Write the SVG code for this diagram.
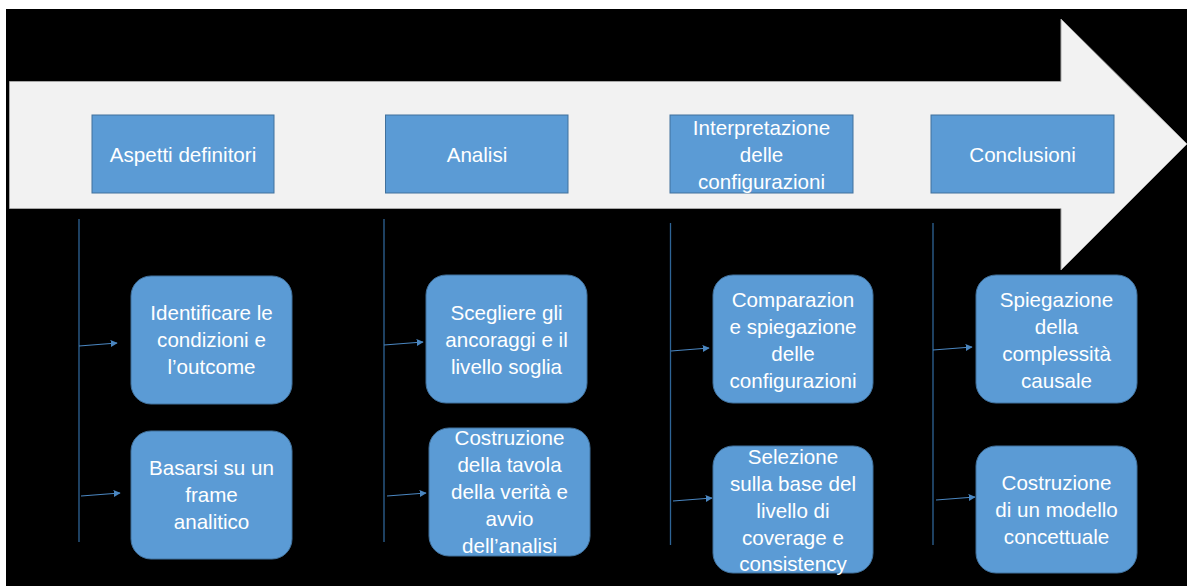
<svg xmlns="http://www.w3.org/2000/svg" width="1187" height="586" viewBox="0 0 1187 586">
<style>
.hdr{fill:#5B9BD5;stroke:#41719C;stroke-width:1}
.box{fill:#5B9BD5;stroke:#41719C;stroke-width:1}
.t{font-family:"Liberation Sans",Arial,sans-serif;font-size:20.6px;fill:#FFFFFF;text-anchor:middle}
.vl{stroke:#2E6496;stroke-width:1.3;fill:none}
.ar{stroke:#4A86C0;stroke-width:1.2;fill:none;marker-end:url(#ah)}
</style>
<defs>
<marker id="ah" viewBox="0 0 10 10" refX="9" refY="5" markerWidth="7" markerHeight="7" markerUnits="userSpaceOnUse" orient="auto">
<path d="M0,0 L10,5 L0,10 z" fill="#4A86C0"/>
</marker>
</defs>
<rect x="0" y="0" width="1187" height="586" fill="#FFFFFF"/>
<rect x="6" y="9" width="1181" height="577" fill="#000000"/>
<g id="big-arrow">
<path d="M9.5,81.5 L1061,81.5 L1061,19 L1187,144 L1061,270 L1061,208.5 L9.5,208.5 Z" fill="#F2F2F2" stroke="#A6A6A6" stroke-width="1"/>
</g>
<g id="h1"><rect class="hdr" x="92" y="115" width="182" height="78"/><text class="t" x="183" y="162">Aspetti definitori</text></g>
<g id="h2"><rect class="hdr" x="385.5" y="115" width="182.5" height="78"/><text class="t" x="477" y="162">Analisi</text></g>
<g id="h3"><rect class="hdr" x="670" y="115" width="183" height="78"/><text class="t" x="761.5" y="135">Interpretazione</text><text class="t" x="761.5" y="162">delle</text><text class="t" x="761.5" y="189">configurazioni</text></g>
<g id="h4"><rect class="hdr" x="931" y="115" width="183" height="78"/><text class="t" x="1022.5" y="162">Conclusioni</text></g>

<g id="connectors">
<line class="vl" x1="79" y1="219" x2="79" y2="542"/>
<line class="vl" x1="384" y1="219" x2="384" y2="542"/>
<line class="vl" x1="670.5" y1="223" x2="670.5" y2="545"/>
<line class="vl" x1="933" y1="223" x2="933" y2="545"/>
<line class="ar" x1="79" y1="346" x2="117" y2="343"/>
<line class="ar" x1="81" y1="496" x2="120" y2="493"/>
<line class="ar" x1="384" y1="345" x2="423" y2="342"/>
<line class="ar" x1="387" y1="496" x2="426" y2="493"/>
<line class="ar" x1="671" y1="351" x2="709" y2="348"/>
<line class="ar" x1="673" y1="501" x2="712" y2="498"/>
<line class="ar" x1="933" y1="350" x2="972" y2="347"/>
<line class="ar" x1="936" y1="500" x2="975" y2="497"/>
</g>

<g id="n1a"><rect class="box" x="131" y="276" width="161" height="128" rx="20"/><text class="t" x="211.5" y="320">Identificare le</text><text class="t" x="211.5" y="347">condizioni e</text><text class="t" x="211.5" y="374">l’outcome</text></g>
<g id="n1b"><rect class="box" x="131" y="431" width="161" height="128" rx="20"/><text class="t" x="211.5" y="475">Basarsi su un</text><text class="t" x="211.5" y="502">frame</text><text class="t" x="211.5" y="529">analitico</text></g>

<g id="n2a"><rect class="box" x="426" y="275" width="161" height="128" rx="20"/><text class="t" x="506.5" y="320">Scegliere gli</text><text class="t" x="506.5" y="347">ancoraggi e il</text><text class="t" x="506.5" y="374">livello soglia</text></g>
<g id="n2b"><rect class="box" x="429" y="428" width="161" height="128" rx="20"/><text class="t" x="509.5" y="445">Costruzione</text><text class="t" x="509.5" y="472">della tavola</text><text class="t" x="509.5" y="499">della verità e</text><text class="t" x="509.5" y="526">avvio</text><text class="t" x="509.5" y="553">dell’analisi</text></g>

<g id="n3a"><rect class="box" x="713" y="275" width="160" height="128" rx="20"/><text class="t" x="793" y="307">Comparazion</text><text class="t" x="793" y="334">e spiegazione</text><text class="t" x="793" y="361">delle</text><text class="t" x="793" y="388">configurazioni</text></g>
<g id="n3b"><rect class="box" x="713" y="446" width="160" height="127" rx="20"/><text class="t" x="793" y="464">Selezione</text><text class="t" x="793" y="491">sulla base del</text><text class="t" x="793" y="518">livello di</text><text class="t" x="793" y="545">coverage e</text><text class="t" x="793" y="571">consistency</text></g>

<g id="n4a"><rect class="box" x="976" y="275" width="161" height="128" rx="20"/><text class="t" x="1056.5" y="307">Spiegazione</text><text class="t" x="1056.5" y="334">della</text><text class="t" x="1056.5" y="361">complessità</text><text class="t" x="1056.5" y="388">causale</text></g>
<g id="n4b"><rect class="box" x="976" y="446" width="161" height="127" rx="20"/><text class="t" x="1056.5" y="490">Costruzione</text><text class="t" x="1056.5" y="517">di un modello</text><text class="t" x="1056.5" y="544">concettuale</text></g>
</svg>
